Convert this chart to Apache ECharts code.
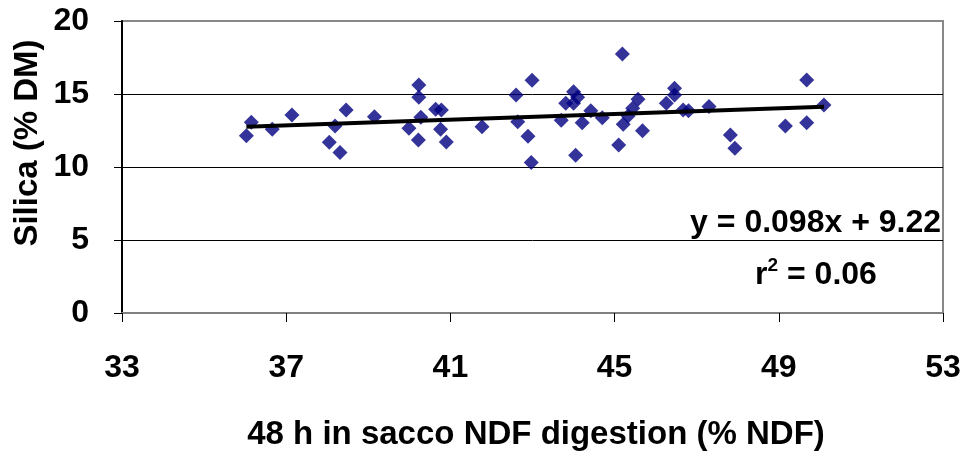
<!DOCTYPE html>
<html>
<head>
<meta charset="utf-8">
<script src="https://cdn.jsdelivr.net/npm/echarts@6/dist/echarts.min.js"></script>
<style>
  html, body { margin: 0; padding: 0; background: #fff; }
  #chart { width: 964px; height: 452px; }
</style>
</head>
<body>
<div id="chart"></div>
<script>
// 48 h in sacco NDF digestion (% NDF)
const ndfDigestion = [
  36.03, 36.15, 36.66, 37.14, 38.05, 38.19, 38.31, 38.46, 39.15, 39.99,
  40.23, 40.23, 40.22, 40.28, 40.64, 40.78, 40.76, 40.90, 41.77, 42.60,
  42.64, 42.89, 42.99, 42.97, 43.70, 43.81, 44.00, 44.10, 44.00, 44.05,
  44.21, 44.42, 44.70, 45.10, 45.19, 45.21, 45.33, 45.44, 45.57, 45.68,
  46.26, 46.46, 46.46, 46.67, 46.80, 47.30, 47.82, 47.93, 49.16, 49.68,
  49.68, 50.10
];
// Silica (% DM)
const silica = [
  12.14, 13.06, 12.58, 13.56, 11.69, 12.81, 11.00, 13.90, 13.45, 12.65,
  15.62, 14.77, 11.85, 13.40, 13.95, 13.90, 12.58, 11.71, 12.76, 14.93,
  13.10, 12.10, 15.94, 10.30, 13.20, 14.36, 15.16, 14.77, 14.36, 10.80,
  13.03, 13.86, 13.38, 11.50, 17.74, 12.92, 13.49, 14.02, 14.64, 12.49,
  14.36, 15.39, 14.93, 13.90, 13.86, 14.15, 12.19, 11.28, 12.80, 13.03,
  15.96, 14.25
];
// regression y = 0.098x + 9.22
const slope = 0.098;
const intercept = 9.22;
const xTicks = [33, 37, 41, 45, 49, 53];
const yTicks = [0, 5, 10, 15, 20];

const font = "'Liberation Sans', Arial, sans-serif";
const points = ndfDigestion.map((x, i) => [x, silica[i]]);
const xMinData = Math.min(...ndfDigestion);
const xMaxData = Math.max(...ndfDigestion);
const trend = [xMinData, xMaxData].map(x => [x, slope * x + intercept]);

const chart = echarts.init(document.getElementById('chart'));
chart.setOption({
  animation: false,
  backgroundColor: '#fff',
  grid: {
    left: 122, right: 21, top: 21, bottom: 139,
    show: true, borderColor: '#888', borderWidth: 2, backgroundColor: '#fff'
  },
  xAxis: {
    type: 'value',
    min: xTicks[0], max: xTicks[xTicks.length - 1], interval: 4,
    axisLine: { show: true, lineStyle: { color: '#808080', width: 2 } },
    axisTick: { show: true, inside: false, length: 9, lineStyle: { color: '#000', width: 1 } },
    axisLabel: { margin: 39, color: '#000', fontSize: 32, fontWeight: 'bold', fontFamily: font },
    splitLine: { show: false }
  },
  yAxis: {
    type: 'value',
    min: yTicks[0], max: yTicks[yTicks.length - 1], interval: 5,
    axisLine: { show: true, lineStyle: { color: '#000', width: 2 } },
    axisTick: { show: true, inside: false, length: 8, lineStyle: { color: '#000', width: 1 } },
    axisLabel: { margin: 33, color: '#000', fontSize: 32, fontWeight: 'bold', fontFamily: font },
    splitLine: { show: true, showMinLine: false, showMaxLine: false, lineStyle: { color: '#000', width: 1 } }
  },
  graphic: [
    {
      type: 'text', x: 28, y: 143, rotation: Math.PI / 2,
      style: {
        text: 'Silica (% DM)', fill: '#000', align: 'center', verticalAlign: 'middle',
        font: 'bold 33px ' + font
      }
    },
    {
      type: 'text', x: 536, y: 435,
      style: {
        text: '48 h in sacco NDF digestion (% NDF)', fill: '#000', align: 'center', verticalAlign: 'middle',
        font: 'bold 33px ' + font
      }
    },
    {
      type: 'text', x: 941, y: 223, z: 10,
      style: {
        text: 'y = 0.098x + 9.22', fill: '#000', align: 'right', verticalAlign: 'middle',
        font: 'bold 32px ' + font
      }
    },
    {
      type: 'text', x: 816, y: 274, z: 10,
      style: {
        text: '{b|r}{s|2}{b| = 0.06}', align: 'center', verticalAlign: 'middle',
        rich: {
          b: { fill: '#000', fontSize: 32, fontWeight: 'bold', fontFamily: font, verticalAlign: 'bottom' },
          s: { fill: '#000', fontSize: 19, fontWeight: 'bold', fontFamily: font, verticalAlign: 'top', padding: [0, 0, 16, 0] }
        }
      }
    }
  ],
  series: [
    {
      type: 'scatter',
      data: points,
      symbol: 'diamond',
      symbolSize: 15,
      itemStyle: { color: '#000080' },
      z: 2
    },
    {
      type: 'line',
      data: trend,
      symbol: 'none',
      lineStyle: { color: '#000', width: 4 },
      z: 3
    }
  ]
});
</script>
</body>
</html>
